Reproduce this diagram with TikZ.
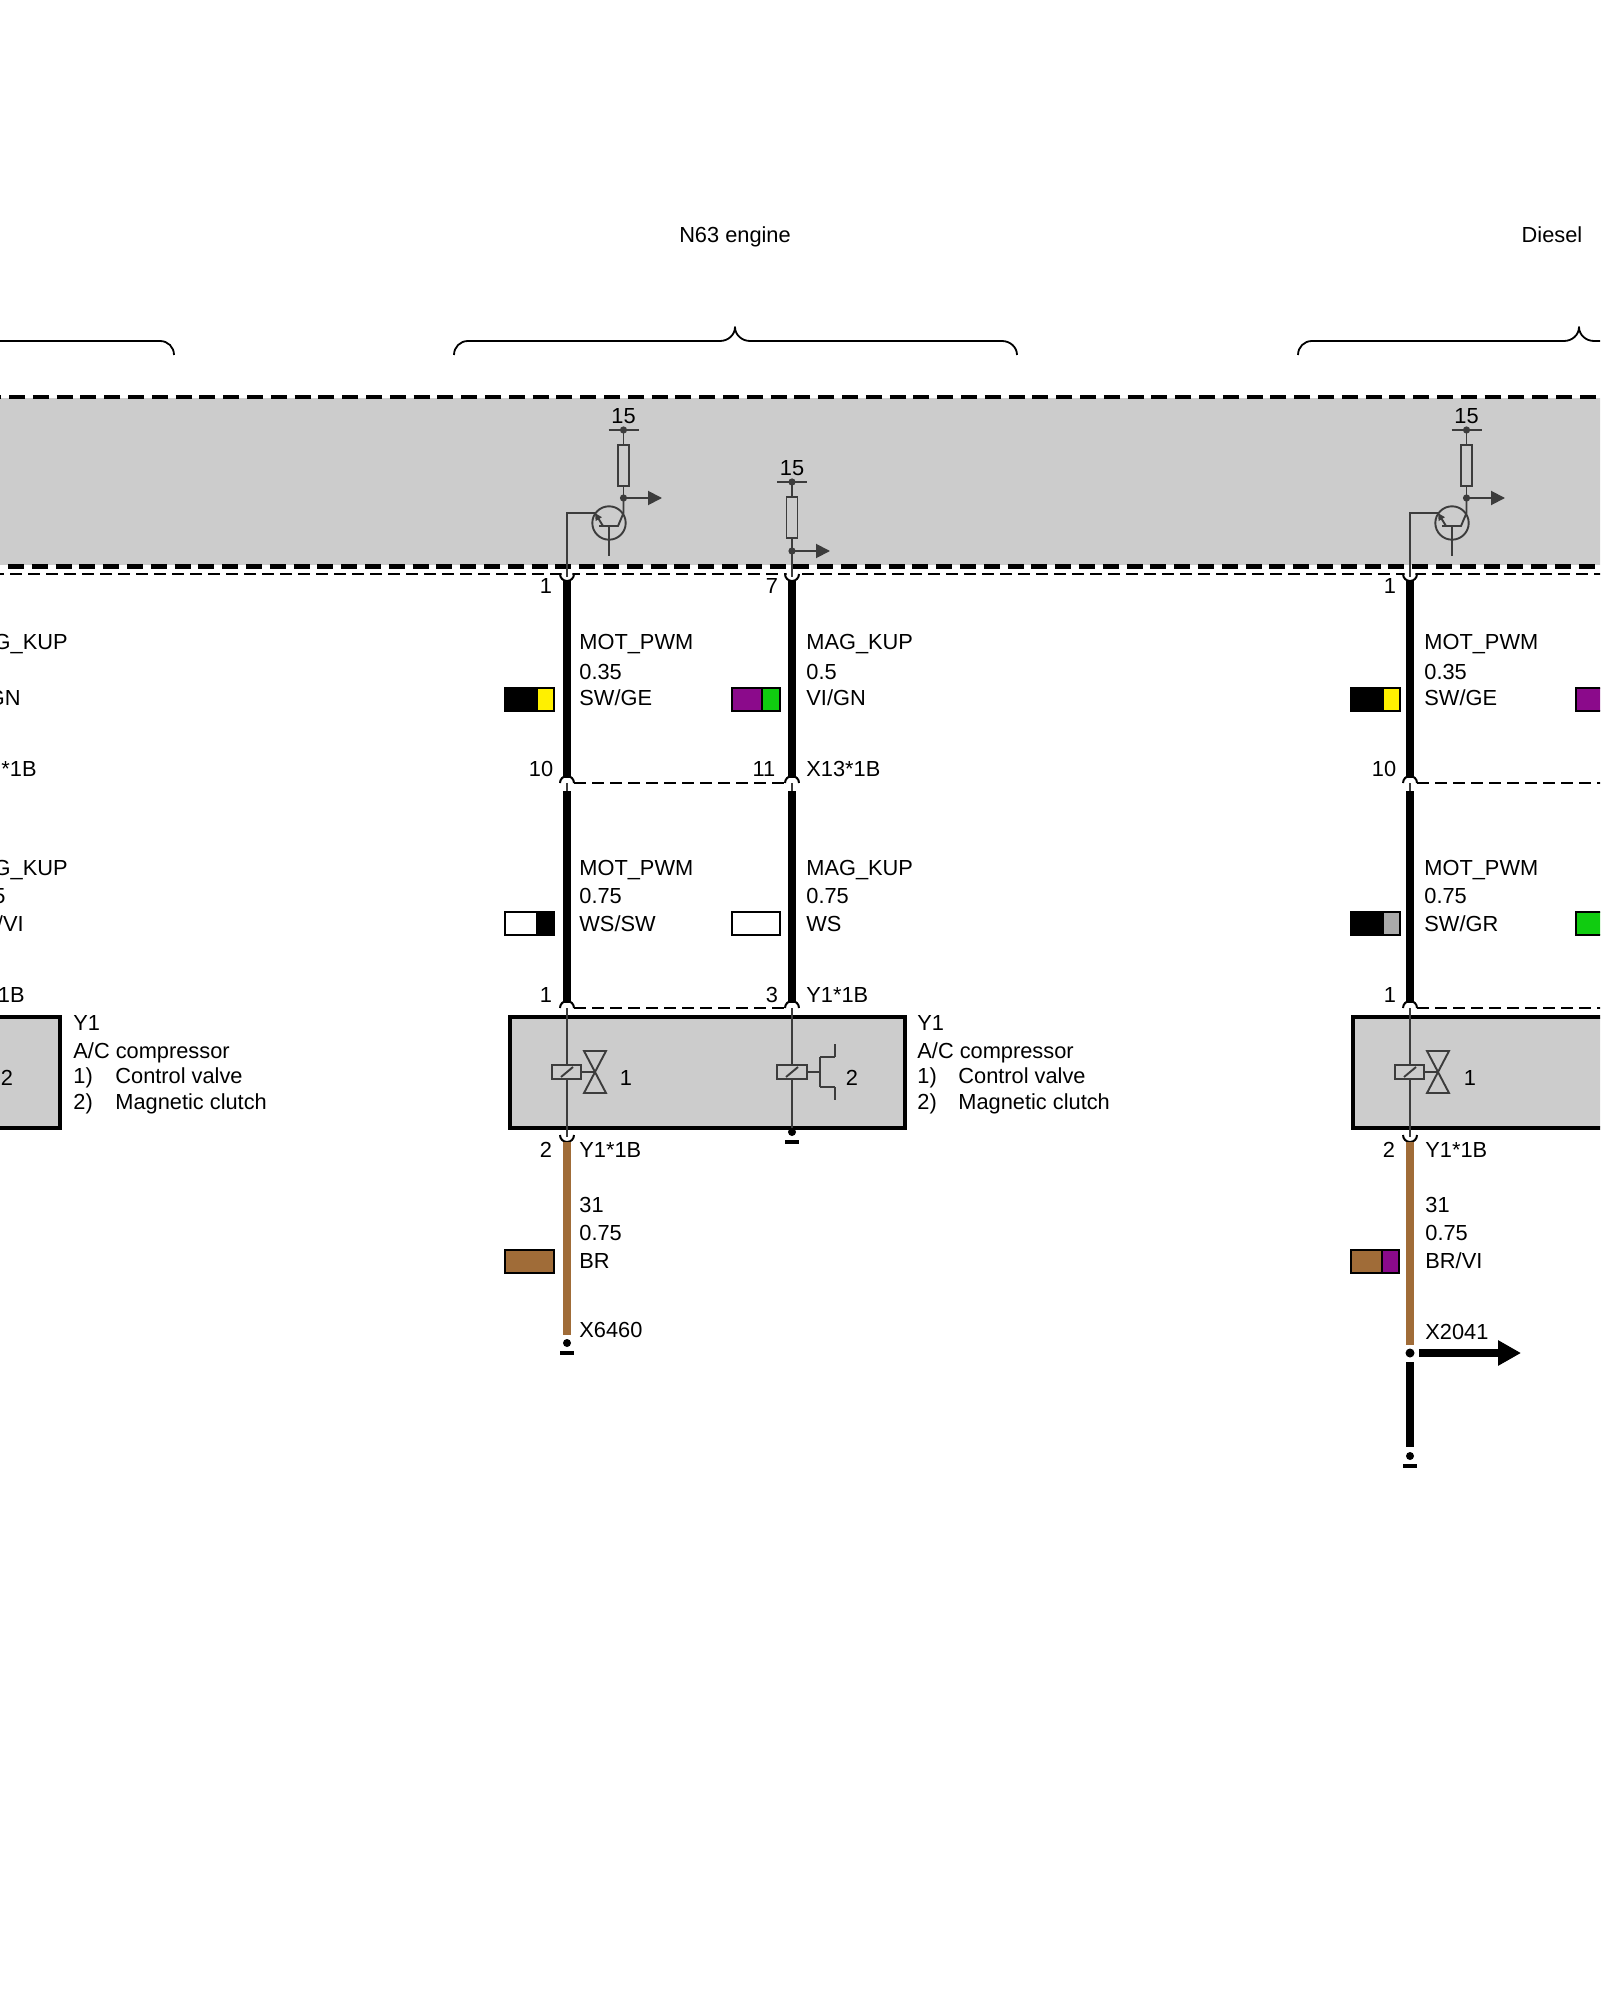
\documentclass[tikz,border=0pt]{standalone}
\usepackage{fontspec}
\setmainfont{Liberation Sans}
\usetikzlibrary{arrows.meta}
\definecolor{bandgray}{HTML}{CCCCCC}
\definecolor{inkgray}{HTML}{3C3C3C}
\definecolor{wirebrown}{HTML}{A06C38}
\definecolor{swyellow}{HTML}{FFF000}
\definecolor{swpurple}{HTML}{8B0A8B}
\definecolor{swgreen}{HTML}{10CC10}
\definecolor{swbrown}{HTML}{A06C38}
\definecolor{swgray}{HTML}{AAAAAA}
\tikzset{
  lbl/.style={anchor=base west,inner sep=0pt,font=\fontsize{10.9}{13}\selectfont,text=black},
  lble/.style={lbl,anchor=base east},
  lblc/.style={lbl,anchor=base},
  thinw/.style={draw=inkgray,line width=0.95pt},
  blackwire/.style={draw=black,line width=4pt},
  brownwire/.style={draw=wirebrown,line width=4pt},
  sepdash/.style={draw=black,line width=1pt,dash pattern=on 6pt off 3pt},
  banddash/.style={draw=black,line width=2.2pt,dash pattern=on 8pt off 3.9pt},
  bracew/.style={draw=black,line width=0.9pt,line join=round},
  modbox/.style={draw=black,fill=bandgray,line width=2pt},
  swatch/.style={draw=black,line width=0.8pt},
  capline/.style={draw=black,line width=1pt},
  garrow/.style={thinw,-{Triangle[length=7pt,width=7pt]}},
  capu/.pic={
    \fill[white] (0,0) circle (5.5);
    \draw[capline] (-7,0) .. controls (-7,3.9) and (-3.9,7) .. (0,7) .. controls (3.9,7) and (7,3.9) .. (7,0);
  },
  capn/.pic={
    \fill[white] (0,0) circle (5.5);
    \draw[capline] (-7,0) .. controls (-7,-3.9) and (-3.9,-7) .. (0,-7) .. controls (3.9,-7) and (7,-3.9) .. (7,0);
  },
  groundsym/.pic={
    \fill[black] (0,0) circle (4);
    \draw[black,line width=2pt] (-7,10) -- (7,10);
  },
  resup/.pic={
    \node[lblc] (v) at (0,-7) {15};
    \coordinate (t) at (0,0);
    \draw[thinw] (-15,0) -- (15,0);
    \fill[inkgray] (t) circle (3.6);
    \draw[thinw] (t) -- (0,15);
    \draw[thinw,fill=bandgray] (-5.5,15) rectangle (5.5,56);
  },
  valvecoil/.pic={
    \draw[thinw,fill=bandgray] (-15,-7) rectangle (14,7);
    \draw[thinw] (-6,5) -- (6,-5);
    \draw[thinw] (14,0) -- (28,0);
    \draw[thinw] (17,-21) -- (39,-21) -- (17,21) -- (39,21) -- cycle;
  },
  clutchcoil/.pic={
    \draw[thinw,fill=bandgray] (-15,-7) rectangle (15,7);
    \draw[thinw] (-6,5) -- (6,-5);
    \draw[thinw] (15,0) -- (28,0);
    \draw[thinw] (28,-15) -- (28,15);
    \draw[thinw] (28,-15) -- (43,-15);
    \draw[thinw] (28,15) -- (43,15);
    \draw[thinw] (43,-28) -- (43,-15);
    \draw[thinw] (43,15) -- (43,28);
  },
  driver/.pic={
    % origin at wire x, y = 430
    \pic (r) at (56.5,0) {resup};
    \coordinate (j) at (56.5,68);
    \coordinate (o) at (95,68);
    \coordinate (b0) at (0,136);
    \coordinate (b1) at (0,83);
    \coordinate (b2) at (28,83);
    \coordinate (e) at (36,96);
    \draw[thinw] (56.5,56) -- (j);
    \fill[inkgray] (j) circle (3.6);
    \draw[garrow] (j) -- (o);
    \draw[thinw] (42,93) circle (16.7);
    \draw[thinw] (j) -- (56.5,83) -- (51,96) -- (32,96);
    \draw[thinw] (42,96) -- (42,126);
    \draw[thinw] (b0) -- (b1) -- (b2);
    \draw[thinw,-{Triangle[length=3.6pt,width=3.4pt]}] (e) -- (b2);
  }
}
\newcommand{\lab}[4]{\node[lbl] (#1) at (#2,{#3+8}) {#4};}
\newcommand{\labe}[4]{\node[lble] (#1) at (#2,{#3+8}) {#4};}
\newcommand{\labc}[4]{\node[lblc] (#1) at (#2,{#3+8}) {#4};}
\newcommand{\swatchtwo}[6]{% x0 xsplit x1 ytop col1 col2
  \fill[#5] (#1,#4) rectangle (#2,{#4+23});
  \fill[#6] (#2,#4) rectangle (#3,{#4+23});
  \draw[swatch] (#1,#4) rectangle (#3,{#4+23});
  \draw[swatch] (#2,#4) -- (#2,{#4+23});
}
\newcommand{\swatchone}[4]{% x0 x1 ytop col
  \draw[swatch,fill=#4] (#1,#3) rectangle (#2,{#3+23});
}
\begin{document}
\begin{tikzpicture}[x=0.5pt,y=-0.5pt]
\useasboundingbox (0,0) rectangle (1600,2000);
\clip (0,0) rectangle (1600,2000);
\fill[white] (0,0) rectangle (1600,2000);

% headings and braces
\labc{hN}{735}{235}{N63 engine}
\labc{hD}{1552}{235}{Diesel}
\draw[bracew] (-10,341) -- (160,341) .. controls (168,341) and (174,347) .. (174,355);
\draw[bracew] (454,355) .. controls (454,347) and (460,341) .. (468,341) -- (720,341) .. controls (728,341) and (735,335) .. (735,327) .. controls (735,335) and (742,341) .. (750,341) -- (1002,341) .. controls (1010,341) and (1017,347) .. (1017,355);
\draw[bracew] (1298,355) .. controls (1298,347) and (1304,341) .. (1312,341) -- (1564,341) .. controls (1572,341) and (1579,335) .. (1579,327) .. controls (1579,335) and (1586,341) .. (1594,341) -- (1610,341);

% control unit band
\fill[bandgray] (-5,398) rectangle (1605,565);
\draw[banddash] (-14.8,397.3) -- (1610,397.3);
\draw[banddash] (-15.8,566.3) -- (1610,566.3);
\draw[sepdash] (-8,574) -- (1610,574);

% separator dashes
\draw[sepdash] (574,783) -- (785,783);
\draw[sepdash] (574,1008) -- (785,1008);
\draw[sepdash] (1417,783) -- (1610,783);
\draw[sepdash] (1417,1008) -- (1610,1008);

% connector caps
\foreach \wx in {567,792,1410}{
  \pic at (\wx,574) {capu};
  \pic at (\wx,783) {capn};
  \pic at (\wx,1008) {capn};
}
\pic at (567,1135) {capu};
\pic at (1410,1135) {capu};

% wire junction coordinates
\foreach \nm/\wx in {a/567,b/792,c/1410}{
  \coordinate (\nm1) at (\wx,580);
  \coordinate (\nm2) at (\wx,778);
  \coordinate (\nm3) at (\wx,791);
  \coordinate (\nm4) at (\wx,1003);
  \coordinate (\nm5) at (\wx,566);
  \coordinate (\nm6) at (\wx,577);
  \coordinate (\nm7) at (\wx,783);
  \coordinate (\nm8) at (\wx,1008);
  \coordinate (\nm9) at (\wx,1132);
}
\draw[blackwire] (a1) -- (a2);
\draw[blackwire] (a3) -- (a4);
\draw[blackwire] (b1) -- (b2);
\draw[blackwire] (b3) -- (b4);
\draw[blackwire] (c1) -- (c2);
\draw[blackwire] (c3) -- (c4);
\foreach \nm in {a,b,c}{
  \draw[thinw] (\nm7) -- (\nm3);
}
% modules
\draw[modbox] (510,1017) rectangle (905,1128);
\draw[modbox] (1353,1017) rectangle (1620,1128);
\draw[modbox] (-20,1017) rectangle (60,1128);

% internal thin lines
\draw[thinw] (a8) -- (567,1137);
\draw[thinw] (b8) -- (792,1132);
\draw[thinw] (c8) -- (1410,1137);
\pic at (567,1072) {valvecoil};
\pic at (792,1072) {clutchcoil};
\pic at (1410,1072) {valvecoil};
\labc{c1n}{626}{1077}{1}
\labc{c2n}{852}{1077}{2}
\labc{c3n}{1470}{1077}{1}
\labc{c0n}{7}{1077}{2}

% control unit internals
\pic (drvN) at (567,430) {driver};
\pic (drvD) at (1410,430) {driver};
\pic (rk) at (792,482) {resup};
\coordinate (rj) at (792,551);
\coordinate (ro) at (830,551);
\draw[thinw] (792,538) -- (rj);
\fill[inkgray] (rj) circle (3.6);
\draw[garrow] (rj) -- (ro);
\draw[thinw] (rj) -- (b6);
\draw[thinw] (a5) -- (a6);
\draw[thinw] (c5) -- (c6);

% lower wires
\coordinate (bN1) at (567,1142);
\coordinate (bN2) at (567,1335);
\coordinate (bD1) at (1410,1142);
\coordinate (bD2) at (1410,1345);
\coordinate (bD3) at (1410,1362);
\coordinate (bD4) at (1410,1447);
\coordinate (jD) at (1410,1353);
\coordinate (arrS) at (1419,1353);
\coordinate (arrE) at (1521,1353);
\draw[brownwire] (bN1) -- (bN2);
\draw[brownwire] (bD1) -- (bD2);
\draw[blackwire] (bD3) -- (bD4);
\fill[black] (jD) circle (4.5);
\draw[blackwire,-{Triangle[length=11.5pt,width=12pt]}] (arrS) -- (arrE);
\pic at (567,1343) {groundsym};
\pic at (792,1132) {groundsym};
\pic at (1410,1456) {groundsym};

% swatches
\swatchtwo{505}{537}{554}{688}{black}{swyellow}
\swatchtwo{732}{762}{780}{688}{swpurple}{swgreen}
\swatchtwo{505}{537}{554}{912}{white}{black}
\swatchone{732}{780}{912}{white}
\swatchone{505}{554}{1250}{swbrown}
\swatchtwo{1351}{1383}{1400}{688}{black}{swyellow}
\swatchtwo{1351}{1383}{1400}{912}{black}{swgray}
\swatchtwo{1351}{1382}{1399}{1250}{swbrown}{swpurple}
\swatchone{1576}{1625}{688}{swpurple}
\swatchone{1576}{1625}{912}{swgreen}

% pin numbers
\labc{p1}{546}{585}{1}
\labc{p2}{772}{585}{7}
\labc{p3}{1390}{585}{1}
\labc{p4}{541}{768}{10}
\labc{p5}{764}{768}{11}
\labc{p6}{1384}{768}{10}
\labc{p7}{546}{994}{1}
\labc{p8}{772}{994}{3}
\labc{p9}{1390}{994}{1}
\labc{p10}{546}{1149}{2}
\labc{p11}{1389}{1149}{2}

% N63 left wire
\lab{t1}{579}{641}{MOT\_PWM}
\lab{t2}{579}{671}{0.35}
\lab{t3}{579}{697}{SW/GE}
\lab{t4}{579}{867}{MOT\_PWM}
\lab{t5}{579}{895}{0.75}
\lab{t6}{579}{923}{WS/SW}
\lab{t7}{579}{1149}{Y1*1B}
\lab{t8}{579}{1204}{31}
\lab{t9}{579}{1232}{0.75}
\lab{t10}{579}{1260}{BR}
\lab{t11}{579}{1329}{X6460}
% N63 right wire
\lab{u1}{806}{641}{MAG\_KUP}
\lab{u2}{806}{671}{0.5}
\lab{u3}{806}{697}{VI/GN}
\lab{u4}{806}{768}{X13*1B}
\lab{u5}{806}{867}{MAG\_KUP}
\lab{u6}{806}{895}{0.75}
\lab{u7}{806}{923}{WS}
\lab{u8}{806}{994}{Y1*1B}
% Diesel
\lab{d1}{1424}{641}{MOT\_PWM}
\lab{d2}{1424}{671}{0.35}
\lab{d3}{1424}{697}{SW/GE}
\lab{d4}{1424}{867}{MOT\_PWM}
\lab{d5}{1424}{895}{0.75}
\lab{d6}{1424}{923}{SW/GR}
\lab{d7}{1425}{1149}{Y1*1B}
\lab{d8}{1425}{1204}{31}
\lab{d9}{1425}{1232}{0.75}
\lab{d10}{1425}{1260}{BR/VI}
\lab{d11}{1425}{1331}{X2041}
% Y1 legends
\lab{y1}{917}{1022}{Y1}
\lab{y2}{917}{1050}{A/C compressor}
\lab{y3}{917}{1075}{1)}
\lab{y4}{958}{1075}{Control valve}
\lab{y5}{917}{1101}{2)}
\lab{y6}{958}{1101}{Magnetic clutch}
\lab{z1}{73}{1022}{Y1}
\lab{z2}{73}{1050}{A/C compressor}
\lab{z3}{73}{1075}{1)}
\lab{z4}{115}{1075}{Control valve}
\lab{z5}{73}{1101}{2)}
\lab{z6}{115}{1101}{Magnetic clutch}
% fragments at the left edge
\labe{f1}{68}{641}{G\_KUP}
\labe{f2}{21}{697}{GN}
\labe{f3}{37}{768}{*1B}
\labe{f4}{68}{867}{G\_KUP}
\labe{f5}{6}{895}{5}
\labe{f6}{24}{923}{/VI}
\labe{f7}{25}{994}{1B}
\end{tikzpicture}
\end{document}
